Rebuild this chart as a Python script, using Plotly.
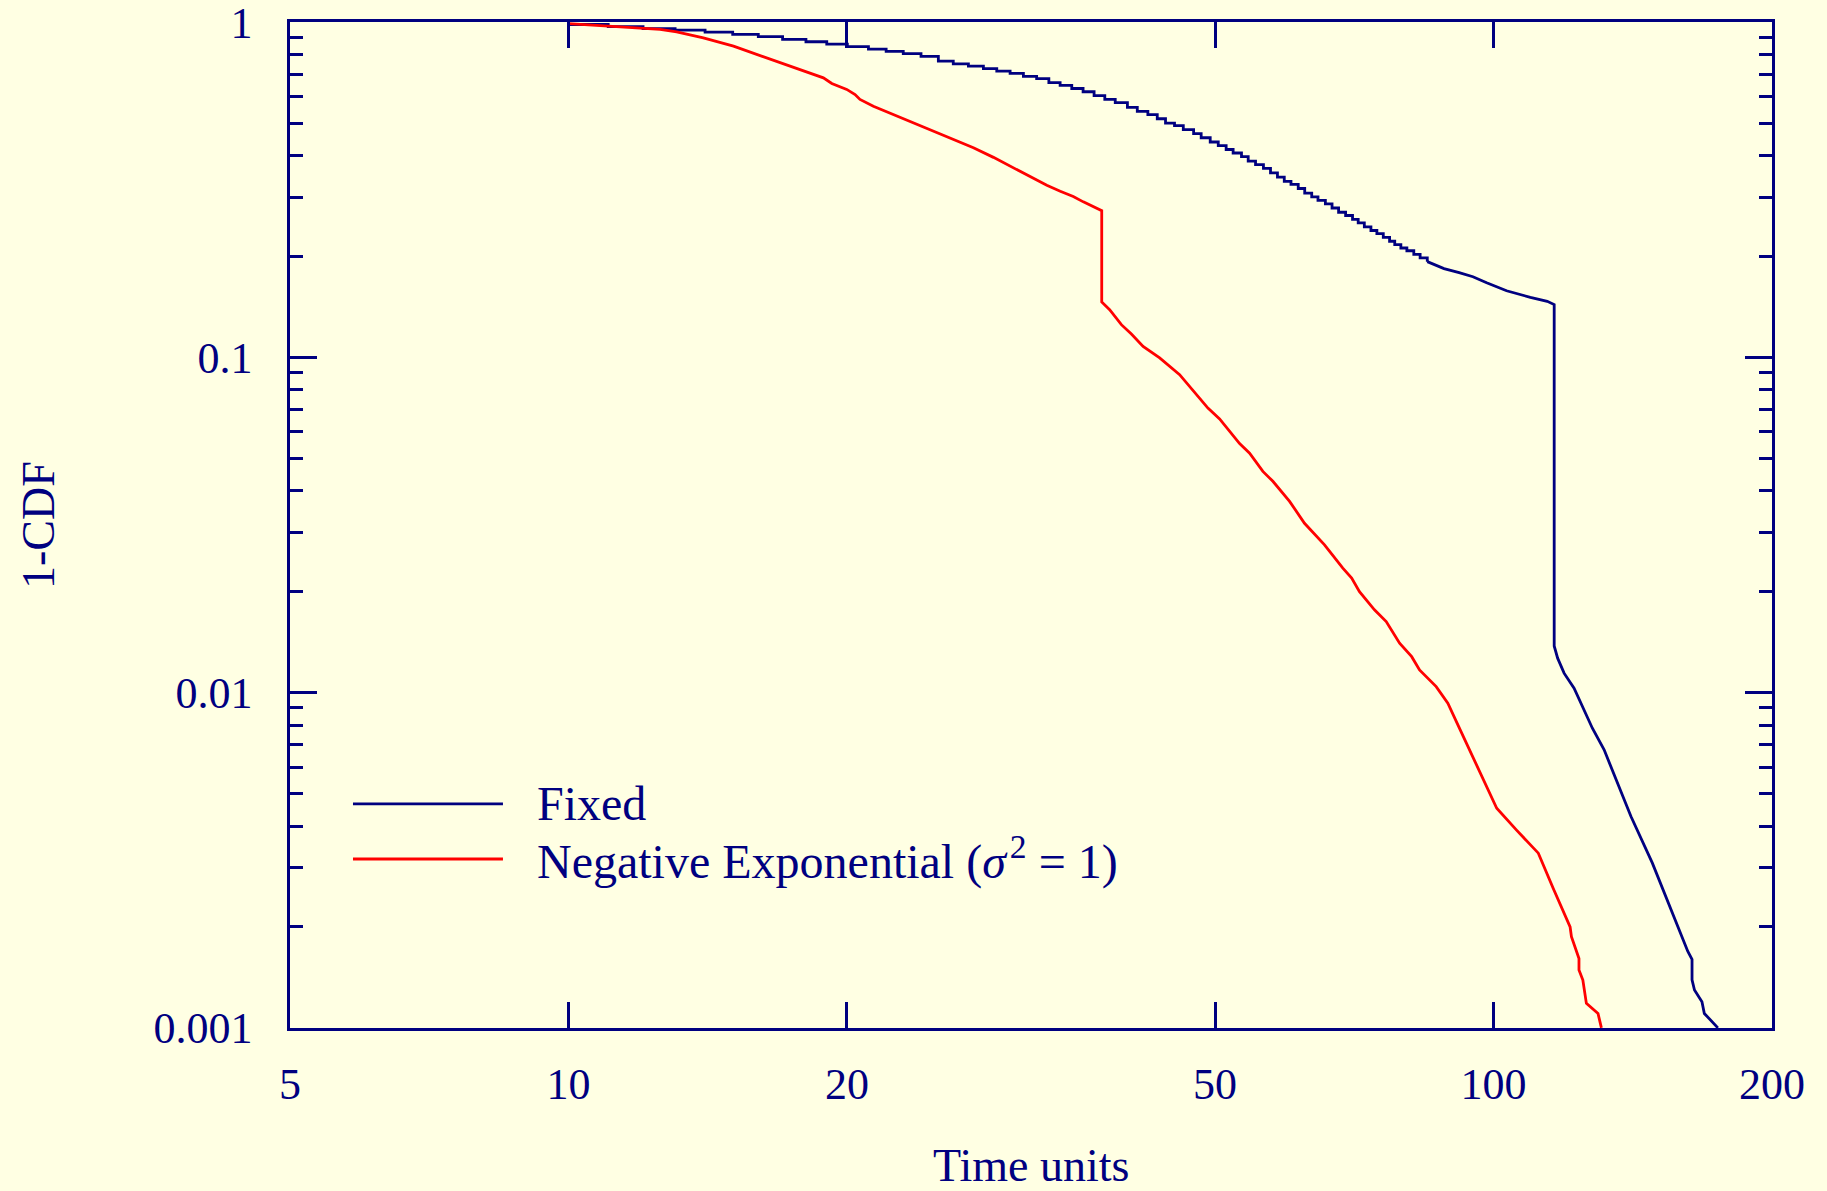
import plotly.graph_objects as go

# ---- data -----------------------------------------------------------------
# Fixed service time: survival function, stepwise (one step per time unit)
fixed_step_x = [10.0, 11.04, 12.04, 13.04, 14.05, 15.05, 16.04, 17.04, 18.06, 19.02,
                20.02, 21.1, 22.05, 23.01, 24.05, 25.11, 26.06, 27.06, 28.09, 29.04,
                30.02, 31.03, 32.07, 33.06, 34.0, 35.0, 36.0, 37.0, 38.0, 39.0,
                40.2, 41.2, 42.3, 43.3, 44.2, 45.2, 46.2, 47.4, 48.3, 49.4,
                50.4, 51.4, 52.3, 53.4, 54.3, 55.3, 56.4, 57.4, 58.4, 59.4,
                60.4, 61.5, 62.5, 63.6, 64.6, 65.8, 66.9, 68.0, 69.2, 70.4,
                71.4, 72.5, 73.7, 74.8, 76.0, 77.2, 78.2, 79.4, 80.6, 82.0,
                83.3, 84.8]
fixed_step_y = [0.984, 0.969, 0.957, 0.946, 0.934, 0.919, 0.905, 0.888, 0.874, 0.860,
                0.845, 0.831, 0.818, 0.805, 0.790, 0.765, 0.751, 0.739, 0.727, 0.714,
                0.703, 0.689, 0.678, 0.660, 0.648, 0.634, 0.620, 0.604, 0.588, 0.575,
                0.557, 0.542, 0.530, 0.515, 0.500, 0.491, 0.478, 0.465, 0.452, 0.439,
                0.428, 0.417, 0.407, 0.397, 0.385, 0.376, 0.366, 0.355, 0.345, 0.335,
                0.328, 0.319, 0.309, 0.301, 0.294, 0.287, 0.279, 0.271, 0.265, 0.258,
                0.252, 0.245, 0.239, 0.234, 0.228, 0.222, 0.217, 0.212, 0.208, 0.203,
                0.198, 0.193]

# Fixed service time: fine-grained part, the drop and the tail
fixed_tail_x = [84.8, 86.6, 88.4, 91.8, 95.0, 98.3, 101.6, 103.3, 109.6, 114.3,
                116.3, 116.3, 117.3, 119.2, 122.2, 124.8, 127.9, 131.7, 140.8, 148.5,
                159.5, 162.2, 163.9, 163.9, 164.9, 168.0, 169.0, 174.8]
fixed_tail_y = [0.193, 0.188, 0.184, 0.179, 0.174, 0.167, 0.161, 0.158, 0.151, 0.147,
                0.1437, 0.01378, 0.01267, 0.01143, 0.01031, 0.00909, 0.00783, 0.00675, 0.00427, 0.0031,
                0.00189, 0.00169, 0.0016, 0.00139, 0.001297, 0.001197, 0.001104, 0.001]

# Negative exponential service time (sigma^2 = 1)
negexp_x = [10.0, 11.09, 12.04, 12.56, 13.09, 13.99, 15.08, 16.11, 17.36, 18.86,
            19.26, 19.99, 20.41, 20.66, 21.36, 22.45, 23.4, 24.59, 25.63, 27.4,
            28.8, 30.02, 31.55, 32.89, 34.01, 35.13, 36.02, 37.71, 37.71, 38.46,
            39.6, 40.6, 41.8, 43.56, 45.78, 46.94, 49.12, 50.57, 53.15, 54.49,
            56.32, 57.74, 60.19, 62.47, 65.66, 68.72, 70.25, 71.63, 74.35, 76.56,
            79.15, 81.57, 83.18, 86.7, 89.25, 91.51, 96.7, 100.8, 105.9, 111.8,
            116.0, 120.0, 121.0, 121.4, 122.7, 123.7, 123.7, 124.9, 126.0, 129.7,
            130.8]
negexp_y = [0.99, 0.973, 0.962, 0.951, 0.936, 0.898, 0.848, 0.795, 0.739, 0.682,
            0.656, 0.63, 0.608, 0.588, 0.561, 0.53, 0.506, 0.478, 0.454, 0.422,
            0.395, 0.372, 0.347, 0.326, 0.313, 0.302, 0.291, 0.274, 0.1463, 0.1388,
            0.1252, 0.1174, 0.1078, 0.0996, 0.0888, 0.0819, 0.0706, 0.0655, 0.0553, 0.0518,
            0.0457, 0.0427, 0.0372, 0.032, 0.0276, 0.0235, 0.02196, 0.02, 0.01766, 0.01629,
            0.01404, 0.0128, 0.01169, 0.01042, 0.0093, 0.00801, 0.00581, 0.00452, 0.00389, 0.00332,
            0.00261, 0.0021, 0.002, 0.00187, 0.00171, 0.00161, 0.001487, 0.001389, 0.001183, 0.001104,
            0.001]

# axis ticks
x_tick_vals = [5, 10, 20, 50, 100, 200]
x_tick_text = ["5", "10", "20", "50", "100", "200"]
y_tick_vals = [0.001, 0.01, 0.1, 1]
y_tick_text = ["0.001", "0.01", "0.1", "1"]
y_minor_vals = [d * 10.0 ** e for e in (-3, -2, -1) for d in range(2, 10)]

legend_labels = ["Fixed", "Negative Exponential (<i>σ</i>\u200a<sup>2</sup> = 1)"]

# ---- style ----------------------------------------------------------------
NAVY = "#000080"
RED = "#FF0000"
BG = "#FFFFE3"
FONT = "Liberation Serif"
LW = 2.5
TRACE_W = 2.8

fig = go.Figure()
fig.add_trace(go.Scatter(x=fixed_step_x, y=fixed_step_y, mode="lines",
                         line=dict(color=NAVY, width=TRACE_W, shape="hv"),
                         showlegend=False))
fig.add_trace(go.Scatter(x=fixed_tail_x, y=fixed_tail_y, mode="lines",
                         line=dict(color=NAVY, width=TRACE_W), showlegend=False))
fig.add_trace(go.Scatter(x=negexp_x, y=negexp_y, mode="lines",
                         line=dict(color=RED, width=TRACE_W), showlegend=False))

axis_common = dict(
    showline=True, linecolor=NAVY, linewidth=LW, mirror="ticks",
    ticks="inside", tickcolor=NAVY, tickwidth=LW,
    showgrid=False, zeroline=False, ticklabeloverflow="allow", automargin=False,
    tickfont=dict(family=FONT, size=44, color=NAVY),
)

fig.update_xaxes(type="log", range=[0.69897, 2.30103],
                 tickmode="array", tickvals=x_tick_vals, ticktext=x_tick_text,
                 ticklen=26, ticklabelstandoff=15, **axis_common)
fig.update_yaxes(type="log", range=[-3.0004, 0.0004],
                 tickmode="array", tickvals=y_tick_vals, ticktext=y_tick_text,
                 ticklen=27, ticklabelstandoff=26,
                 minor=dict(tickmode="array", tickvals=y_minor_vals, ticks="inside",
                            ticklen=13, tickwidth=LW, tickcolor=NAVY, showgrid=False),
                 **axis_common)

# legend drawn inside the frame: line samples plus labels
legend_rows_y = [0.2227, 0.168]
for label, color, ypos in zip(legend_labels, [NAVY, RED], legend_rows_y):
    fig.add_shape(type="line", xref="paper", yref="paper",
                  x0=0.0425, x1=0.1437, y0=ypos, y1=ypos,
                  line=dict(color=color, width=TRACE_W))
    fig.add_annotation(xref="paper", yref="paper", x=0.1653, y=ypos,
                       text=label, showarrow=False, xanchor="left", yanchor="middle",
                       font=dict(family=FONT, size=48, color=NAVY))

# axis titles
fig.add_annotation(xref="paper", yref="paper", x=0.5, y=-0.137, text="Time units",
                   showarrow=False, xanchor="center", yanchor="middle",
                   font=dict(family=FONT, size=46, color=NAVY))
fig.add_annotation(xref="paper", yref="paper", x=-0.170, y=0.5, text="1-CDF",
                   textangle=-90, showarrow=False, xanchor="center", yanchor="middle",
                   font=dict(family=FONT, size=46, color=NAVY))

fig.update_layout(
    width=1827, height=1191,
    margin=dict(l=290, r=55, t=22, b=163),
    paper_bgcolor=BG, plot_bgcolor=BG,
    showlegend=False,
)

fig.write_html("out.html")
